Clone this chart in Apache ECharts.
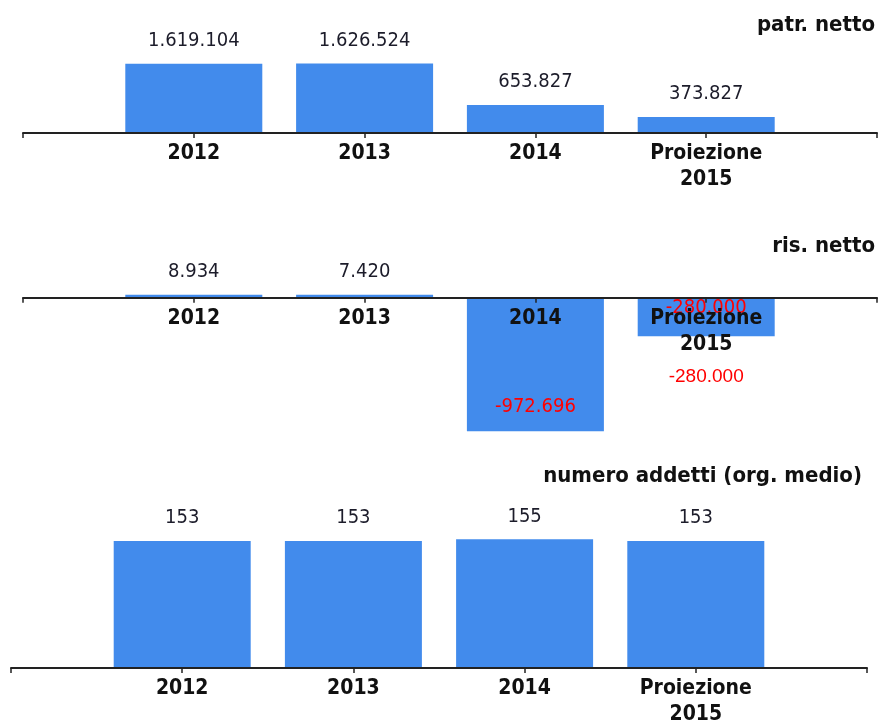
<!DOCTYPE html>
<html>
<head>
<meta charset="utf-8">
<script src="https://cdn.jsdelivr.net/npm/echarts@6/dist/echarts.min.js"></script>
<style>
  html, body { margin: 0; padding: 0; background: #fff; }
  #main { width: 879px; height: 720px; }
</style>
</head>
<body>
<div id="main"></div>
<script>
// categorie (con uno slot vuoto a ogni estremo dell'asse)
var categories = ['2012', '2013', '2014', 'Proiezione\n2015'];
var patrNetto = [1619104, 1626524, 653827, 373827];
var risNetto = [8934, 7420, -972696, -280000];
var addetti = [153, 153, 155, 153];

var titles = ['patr. netto', 'ris. netto', 'numero addetti (org. medio)'];

var BLUE = '#428bec';
var FONT = '"DejaVu Sans Condensed", "DejaVu Sans", sans-serif';

function pad(arr) {
  return [null].concat(arr, [null]);
}

// 1619104 -> 1.619.104
function fmt(v) {
  var s = String(Math.abs(v)).replace(/\B(?=(\d{3})+(?!\d))/g, '.');
  return (v < 0 ? '-' : '') + s;
}

function xAxisFor(gridIndex, offset) {
  return {
    type: 'category',
    gridIndex: gridIndex,
    data: [''].concat(categories, ['']),
    boundaryGap: false,
    z: 10,
    offset: offset || 0,
    axisLine: { onZero: false, lineStyle: { color: '#222', width: 2 } },
    axisTick: { show: true, length: 5, lineStyle: { color: '#222', width: 1.5 } },
    axisLabel: {
      interval: 0,
      margin: 8,
      color: '#111',
      fontFamily: FONT,
      fontWeight: 'bold',
      fontSize: 21,
      lineHeight: 26
    }
  };
}

function yAxisFor(gridIndex, min, max) {
  return {
    type: 'value',
    gridIndex: gridIndex,
    min: min,
    max: max,
    show: false,
    splitLine: { show: false }
  };
}

var valueLabel = {
  show: true,
  position: 'top',
  distance: 13,
  color: '#1c1c2a',
  fontFamily: FONT,
  fontSize: 20,
  formatter: function (p) { return fmt(p.value); }
};

var titleStyle = { fontFamily: FONT, fontWeight: 'bold', fontSize: 22, color: '#111' };

var chart = echarts.init(document.getElementById('main'));

// griglia 2: lo zero sta a 400000/1400000 dell'altezza
var g2Top = 243, g2Height = 192;
var g2Zero = g2Top + g2Height * 400000 / 1400000;

var option = {
  animation: false,
  title: [
    { text: titles[0], right: 4, top: 14, padding: 0, textStyle: titleStyle },
    { text: titles[1], right: 4, top: 235, padding: 0, textStyle: titleStyle },
    { text: titles[2], right: 17, top: 465, padding: 0, textStyle: titleStyle }
  ],
  grid: [
    { left: 23, right: 2, top: 39, height: 94, outerBoundsMode: 'none' },
    { left: 23, right: 2, top: g2Top, height: g2Height, outerBoundsMode: 'none' },
    { left: 11, right: 12, top: 502, height: 166, outerBoundsMode: 'none' }
  ],
  xAxis: [
    xAxisFor(0),
    xAxisFor(1, -(g2Top + g2Height - g2Zero)),
    xAxisFor(2)
  ],
  yAxis: [
    yAxisFor(0, 0, 2200000),
    yAxisFor(1, -1000000, 400000),
    yAxisFor(2, 0, 200)
  ],
  series: [
    {
      type: 'bar',
      xAxisIndex: 0,
      yAxisIndex: 0,
      barWidth: 137,
      itemStyle: { color: BLUE },
      label: valueLabel,
      data: pad(patrNetto)
    },
    {
      type: 'bar',
      xAxisIndex: 1,
      yAxisIndex: 1,
      barWidth: 137,
      barMinHeight: 3,
      itemStyle: { color: BLUE },
      label: valueLabel,
      data: pad(risNetto).map(function (v, i) {
        if (v === null || v >= 0) return v;
        // valori negativi: etichetta rossa dentro la barra
        var isLast = i === categories.length;
        return {
          value: v,
          label: {
            position: isLast ? 'insideTop' : 'insideBottom',
            distance: isLast ? 0 : 14,
            color: '#ff0000'
          }
        };
      })
    },
    {
      // seconda etichetta della proiezione, sotto la barra
      type: 'bar',
      xAxisIndex: 1,
      yAxisIndex: 1,
      barWidth: 137,
      barGap: '-100%',
      silent: true,
      itemStyle: { color: 'rgba(0,0,0,0)' },
      label: {
        show: true,
        position: 'bottom',
        distance: 31,
        color: '#ff0000',
        fontFamily: '"Liberation Sans", Arial, sans-serif',
        fontSize: 19,
        formatter: function (p) { return fmt(p.value); }
      },
      data: pad(risNetto).map(function (v, i) {
        return i === categories.length ? v : null;
      })
    },
    {
      type: 'bar',
      xAxisIndex: 2,
      yAxisIndex: 2,
      barWidth: 137,
      itemStyle: { color: BLUE },
      label: valueLabel,
      data: pad(addetti)
    }
  ]
};

chart.setOption(option);
</script>
</body>
</html>
